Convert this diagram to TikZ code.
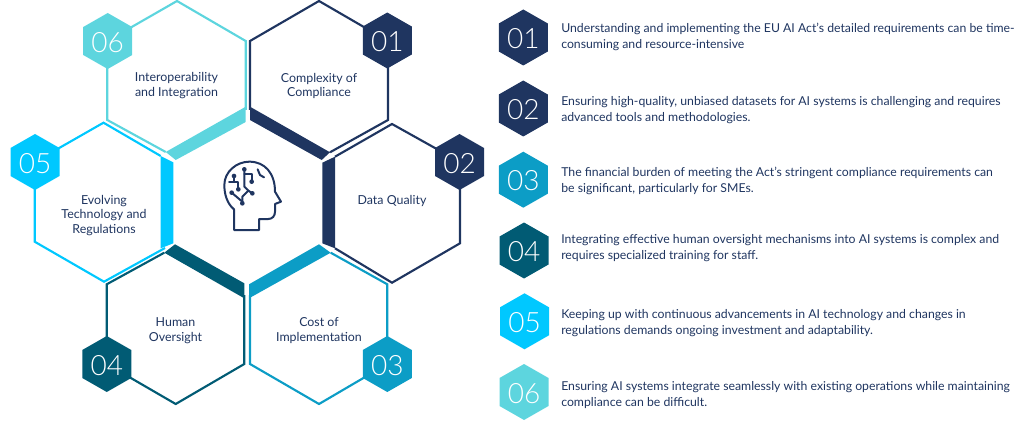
\documentclass[tikz,border=0pt]{standalone}
\usepackage{fontspec}
\setmainfont{Lato}
\newfontfamily\numfont[UprightFont=* Light]{Lato}
\definecolor{cnavy}{HTML}{1F3560}
\definecolor{cblue}{HTML}{0C9DC6}
\definecolor{cteal}{HTML}{015B74}
\definecolor{ccyan}{HTML}{00C8FF}
\definecolor{caqua}{HTML}{5DD5DE}
\tikzset{
  hexline/.style={line width=1.6pt,line join=miter},
  lab/.style={text=cnavy,font=\fontsize{9.3}{11.2}\selectfont,align=center,inner sep=0pt},
  desc/.style={text=cnavy,font=\fontsize{9.2}{12}\selectfont,align=left,anchor=west,inner sep=0pt},
  num/.style={text=white,font=\numfont\fontsize{21}{24}\selectfont,inner sep=0pt},
  iconline/.style={draw=cnavy,line width=1.5pt,line join=round,line cap=round},
  icondot/.style={fill=cnavy,draw=none}
}
\newcommand{\badge}[5]{% name, x, y, colour, number
  \fill[#4] (#2,#3-28) -- (#2+24.5,#3-14) -- (#2+24.5,#3+14) -- (#2,#3+28) -- (#2-24.5,#3+14) -- (#2-24.5,#3-14) -- cycle;
  \node[num] (#1) at (#2,#3+1.2) {#5};
}
\begin{document}
\begin{tikzpicture}[x=0.75pt,y=-0.75pt]
\useasboundingbox (0,0) rectangle (1023,431);
% 06
\draw[hexline,caqua] (165.7,152) -- (107.3,120) -- (107.3,41) -- (177,1) -- (245.7,41) -- (245.7,110);
\fill[caqua] (245.7,106.7) -- (245.7,122) -- (175.7,160) -- (165.7,152) -- cycle;
% 01
\draw[hexline,cnavy] (330,152.3) -- (388,120) -- (388,41) -- (319,1) -- (250,41) -- (250,110);
\fill[cnavy] (250,106.7) -- (250,120) -- (321.7,160) -- (330,152.3) -- cycle;
% 05
\draw[hexline,ccyan] (160.7,156) -- (103.5,122.7) -- (34.7,162) -- (34.7,241.7) -- (104,281.7) -- (165,248);
\fill[ccyan] (160.7,156) -- (173.3,162.3) -- (173.3,243.3) -- (160.7,248.3) -- cycle;
% 02
\draw[hexline,cnavy] (335,156.7) -- (392,124) -- (460,162) -- (460,243.3) -- (392,282.7) -- (335,248.3);
\fill[cnavy] (335,156.7) -- (322.3,162.7) -- (322.3,243.3) -- (335,248.3) -- cycle;
% 04
\draw[hexline,cteal] (164.3,252.7) -- (106.7,284.3) -- (106.7,364) -- (175.7,404) -- (244.3,364) -- (244.3,295);
\fill[cteal] (175,244.3) -- (244.3,283.3) -- (244.3,298.3) -- (164.3,252.7) -- cycle;
% 03
\draw[hexline,cblue] (330.7,252.7) -- (387.3,284.3) -- (387.3,364) -- (319,404) -- (250,364) -- (250,295);
\fill[cblue] (319,244.3) -- (249,284.3) -- (249,298.3) -- (330.7,252.7) -- cycle;
% labels
\node[lab] (l6) at (176.5,86) {Interoperability\\and Integration};
\node[lab] (l1) at (319,86) {Complexity of\\Compliance};
\node[lab] (l2) at (392,201) {Data Quality};
\node[lab] (l5) at (104,215.5) {Evolving\\Technology and\\Regulations};
\node[lab] (l4) at (175.5,330.5) {Human\\Oversight};
\node[lab] (l3) at (319,331) {Cost of\\Implementation};
% badges on the hexagons
\badge{h6}{107.7}{41}{caqua}{06}
\badge{h1}{387.3}{40.5}{cnavy}{01}
\badge{h5}{35}{162}{ccyan}{05}
\badge{h2}{459.5}{162}{cnavy}{02}
\badge{h4}{106.8}{364}{cteal}{04}
\badge{h3}{387.3}{364}{cblue}{03}
% list
\badge{n1}{523.3}{37.5}{cnavy}{01}
\badge{n2}{523.3}{108.5}{cnavy}{02}
\badge{n3}{523.3}{179.7}{cblue}{03}
\badge{n4}{524}{250.5}{cteal}{04}
\badge{n5}{524.5}{321.3}{ccyan}{05}
\badge{n6}{524}{392}{caqua}{06}
\node[desc] (d1) at (561,36.5) {Understanding and implementing the EU AI Act’s detailed requirements can be time-\\consuming and resource-intensive};
\node[desc] (d2) at (561,110.5) {Ensuring high-quality, unbiased datasets for AI systems is challenging and requires\\advanced tools and methodologies.};
\node[desc] (d3) at (561,181) {The financial burden of meeting the Act’s stringent compliance requirements can\\be significant, particularly for SMEs.};
\node[desc] (d4) at (561,248) {Integrating effective human oversight mechanisms into AI systems is complex and\\requires specialized training for staff.};
\node[desc] (d5) at (561,323) {Keeping up with continuous advancements in AI technology and changes in\\regulations demands ongoing investment and adaptability.};
\node[desc] (d6) at (561,395) {Ensuring AI systems integrate seamlessly with existing operations while maintaining\\compliance can be difficult.};
% head icon, drawn in the coordinates of a 3x crop
\begin{scope}[shift={(210,150)},x=0.25pt,y=-0.25pt]
\draw[iconline,fill=none] (72,240) -- (72,178) .. controls (50,160) and (43,130) .. (43,105)
  .. controls (43,65) and (80,35) .. (118,35) .. controls (165,35) and (195,70) .. (195,125)
  -- (213,155) -- (195,162) -- (195,185) .. controls (195,198) and (187,207) .. (175,207)
  -- (147,207) -- (147,240) -- cycle;
\draw[iconline] (103,58) -- (103,110) -- (115,122) -- (127,130);
\draw[iconline] (103,72) -- (125,72) -- (125,95);
\draw[iconline] (72,78) -- (72,97) -- (57,97);
\draw[iconline] (72,97) -- (85,97) -- (85,118);
\draw[iconline] (65,128) -- (97,155) -- (97,160);
\draw[iconline] (97,155) -- (97,140) -- (115,122);
\draw[iconline] (143,58) -- (150,75) -- (162,82);
\foreach \p in {(103,58),(125,95),(72,78),(85,118),(65,128),(97,160),(127,130)}
  \fill[icondot] \p circle (7);
\end{scope}
\end{tikzpicture}
\end{document}
